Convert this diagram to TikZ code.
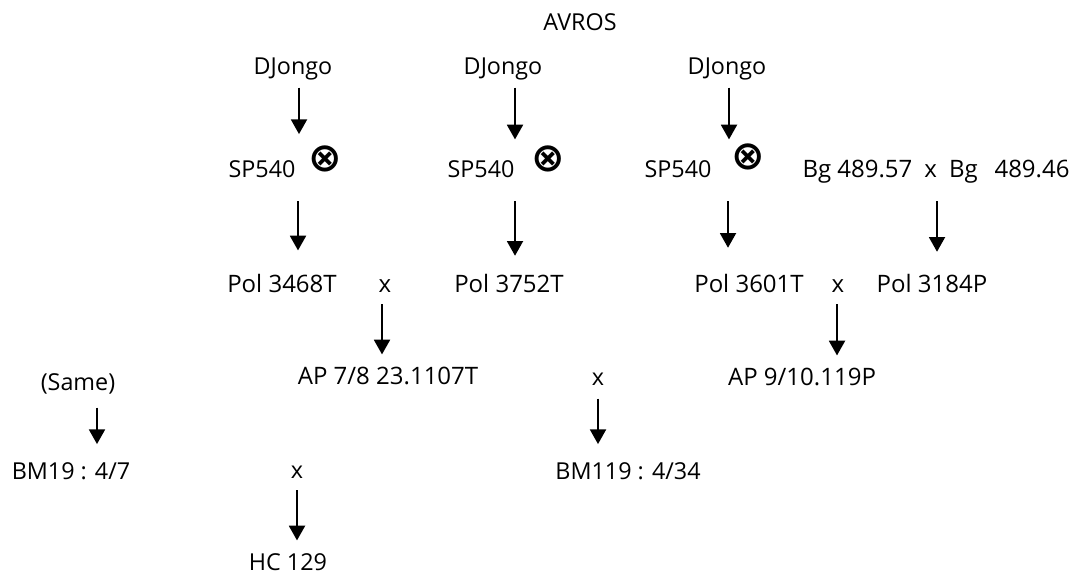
\documentclass[tikz,border=0pt]{standalone}
\usepackage{fontspec}
\setmainfont{Open Sans}
\newfontfamily\symfont{DejaVu Sans}
\usetikzlibrary{arrows.meta}

\begin{document}
\begin{tikzpicture}[
        x=0.75pt, y=-0.75pt,
        every node/.style={font=\fontsize{17.5}{20}\selectfont, anchor=base, inner xsep=2pt, inner ysep=9pt, text height=13pt, text depth=4pt},
        cross/.style={font=\symfont\bfseries\fontsize{30}{32}\selectfont},
        wide/.style={font=\fontsize{18}{20}\selectfont},
        arrow/.style={line width=1.4pt, -{Triangle[width=12pt,length=11pt]}}
        ]
        \useasboundingbox (0,0) rectangle (1073,576);

        % Top of the pedigree
        \node (avros) at (580,30) {AVROS};
        \node (dj1) at (293,74) {DJongo};
        \node (dj2) at (503,74) {DJongo};
        \node (dj3) at (727,74) {DJongo};

        % SP540 selfings
        \node (sp1) at (262,177) {SP540};
        \node[cross] (ot1) at (325,171) {⊗};
        \node (sp2) at (481,177) {SP540};
        \node[cross] (ot2) at (548,171) {⊗};
        \node (sp3) at (678,177) {SP540};
        \node[cross] (ot3) at (748,169) {⊗};
        \node[wide] (bg) at (936,177) {Bg 489.57\hspace{0.5em}x\hspace{0.5em}Bg\hspace{0.7em}489.46};

        % Pol parents
        \node[wide] (pol1) at (282,292) {Pol 3468T};
        \node[wide] (x1) at (385,292) {x};
        \node[wide] (pol2) at (509,292) {Pol 3752T};
        \node[wide] (pol3) at (749,292) {Pol 3601T};
        \node[wide] (x2) at (838,292) {x};
        \node[wide] (pol4) at (932,292) {Pol 3184P};

        % AP crosses
        \node (same) at (78,390) {(Same)};
        \node[wide] (ap1) at (388,384) {AP 7/8 23.1107T};
        \node (x3) at (598,385) {x};
        \node[wide] (ap2) at (802,385) {AP 9/10.119P};

        % BM and HC lines
        \node (bm1) at (71,479) {BM19 : 4/7};
        \node (x4) at (297,478) {x};
        \node (bm2) at (628,479) {BM119 : 4/34};
        \node (hc) at (288,570) {HC 129};

        % Arrows down the tree
        \draw[arrow, shorten <=-3pt, shorten >=10pt] (dj1.south -| 299,0) -- (sp1.north -| 299,0);
        \draw[arrow, shorten <=-3pt, shorten >=6pt] (dj2.south -| 515,0) -- (sp2.north -| 515,0);
        \draw[arrow, shorten <=-3pt, shorten >=6pt] (dj3.south -| 729,0) -- (sp3.north -| 729,0);
        \draw[arrow, shorten <=5pt, shorten >=9pt] (sp1.south -| 298,0) -- (pol1.north -| 298,0);
        \draw[arrow, shorten <=5pt, shorten >=5pt] (sp2.south -| 515,0) -- (pol2.north -| 515,0);
        \draw[arrow, shorten <=5pt, shorten >=11pt] (sp3.south -| 728,0) -- (pol3.north -| 728,0);
        \draw[arrow, shorten <=5pt, shorten >=8pt] (bg.south -| 937,0) -- (pol4.north -| 937,0);
        \draw[arrow, shorten <=-4pt] (x1.south -| 382,0) -- (ap1.north -| 382,0);
        \draw[arrow, shorten <=-4pt] (x2.south -| 837,0) -- (ap2.north -| 837,0);
        \draw[arrow, shorten >=4pt] (same.south -| 97,0) -- (bm1.north -| 97,0);
        \draw[arrow, shorten <=-3pt, shorten >=4pt] (x3.south -| 598,0) -- (bm2.north -| 598,0);
        \draw[arrow, shorten <=-4pt] (x4.south -| 297,0) -- (hc.north -| 297,0);

    \end{tikzpicture}
\end{document}
